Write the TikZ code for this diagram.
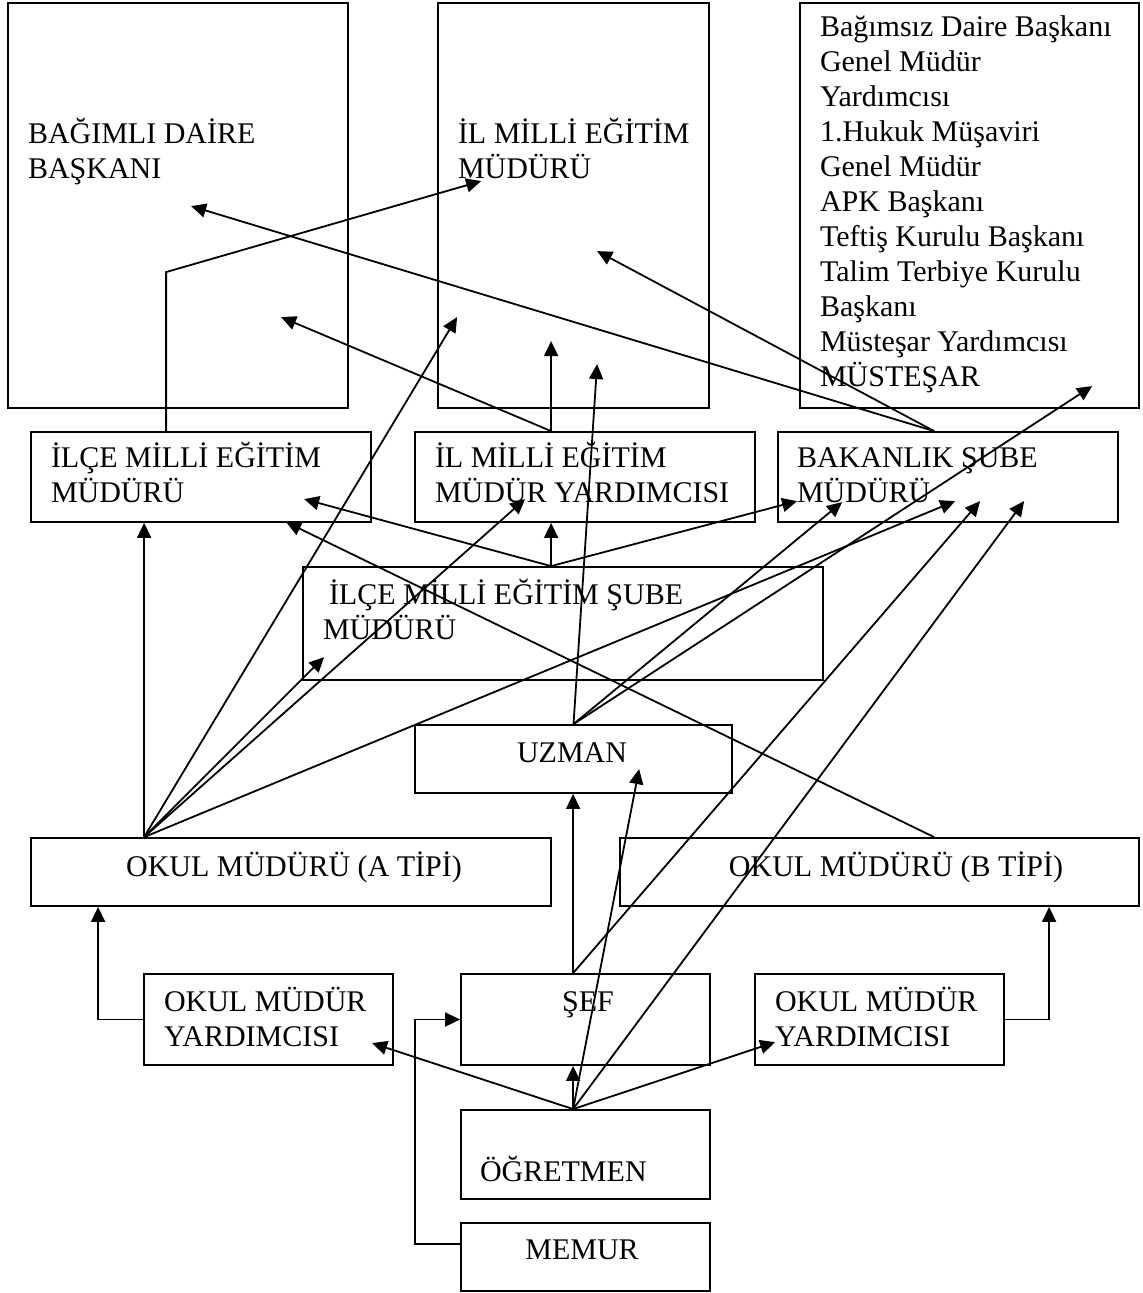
\documentclass[tikz,border=0pt]{standalone}
\usepackage{fontspec}
\setmainfont{Liberation Serif}
\usetikzlibrary{arrows.meta}

\begin{document}
\begin{tikzpicture}[
    x=0.5pt, y=-0.5pt,
    line width=0.9pt,
    box/.style={rectangle, draw, inner sep=0pt},
    txt/.style={inner sep=0pt, anchor=base west, align=left, font=\fontsize{15}{17.5}\selectfont},
    ctxt/.style={inner sep=0pt, anchor=base, font=\fontsize{15}{17.5}\selectfont},
    link/.style={-{Triangle[length=7.5pt, width=7pt]}}
]
    \useasboundingbox (0,0) rectangle (1142,1293);

    % Top row: large boxes
    \node[box, minimum width=170pt, minimum height=202.5pt] (bagimli) at (178,205.5) {};
    \node[box, minimum width=135.5pt, minimum height=202.5pt] (ilmem) at (573.5,205.5) {};
    \node[box, minimum width=169.5pt, minimum height=202.5pt] (bakanlar) at (969.5,205.5) {};

    % Second row
    \node[box, minimum width=170pt, minimum height=45pt] (ilcemem) at (201,477) {};
    \node[box, minimum width=170pt, minimum height=45pt] (ilyrd) at (585,477) {};
    \node[box, minimum width=170pt, minimum height=45pt] (sube) at (948,477) {};

    % Middle boxes
    \node[box, minimum width=260pt, minimum height=56.5pt] (ilcesube) at (563,623.5) {};
    \node[box, minimum width=158.5pt, minimum height=34pt] (uzman) at (573.5,759) {};
    \node[box, minimum width=260pt, minimum height=34pt] (okula) at (291,872) {};
    \node[box, minimum width=259.5pt, minimum height=34pt] (okulb) at (879.5,872) {};

    % Bottom boxes
    \node[box, minimum width=124.5pt, minimum height=45.5pt] (yrda) at (268.5,1019.5) {};
    \node[box, minimum width=124.5pt, minimum height=45.5pt] (sef) at (585.5,1019.5) {};
    \node[box, minimum width=124.5pt, minimum height=45.5pt] (yrdb) at (879.5,1019.5) {};
    \node[box, minimum width=124.5pt, minimum height=44.5pt] (ogretmen) at (585.5,1154.5) {};
    \node[box, minimum width=124.5pt, minimum height=34pt] (memur) at (585.5,1257) {};

    % Texts of the boxes (placed at the baseline of their last line)
    \node[txt] (t-bagimli) at ([shift={(20,176)}]bagimli.north west) {BAĞIMLI DAİRE\\BAŞKANI};
    \node[txt] (t-ilmem) at ([shift={(20,176)}]ilmem.north west) {İL MİLLİ EĞİTİM\\MÜDÜRÜ};
    \node[txt] (t-bakanlar) at ([shift={(20,384)}]bakanlar.north west) {Bağımsız Daire Başkanı\\Genel Müdür\\Yardımcısı\\1.Hukuk Müşaviri\\Genel Müdür\\APK Başkanı\\Teftiş Kurulu Başkanı\\Talim Terbiye Kurulu\\Başkanı\\Müsteşar Yardımcısı\\MÜSTEŞAR};
    \node[txt] (t-ilcemem) at ([shift={(20,71)}]ilcemem.north west) {İLÇE MİLLİ EĞİTİM\\MÜDÜRÜ};
    \node[txt] (t-ilyrd) at ([shift={(20,71)}]ilyrd.north west) {İL MİLLİ EĞİTİM\\MÜDÜR YARDIMCISI};
    \node[txt] (t-sube) at ([shift={(19,71)}]sube.north west) {BAKANLIK ŞUBE\\MÜDÜRÜ};
    \node[txt] (t-ilcesube) at ([shift={(20,73)}]ilcesube.north west) {\hspace{3pt}İLÇE MİLLİ EĞİTİM ŞUBE\\MÜDÜRÜ};
    \node[ctxt] (t-uzman) at ([shift={(-1.5,38)}]uzman.north) {UZMAN};
    \node[ctxt] (t-okula) at ([shift={(3,39)}]okula.north) {OKUL MÜDÜRÜ (A TİPİ)};
    \node[ctxt] (t-okulb) at ([shift={(16.5,39)}]okulb.north) {OKUL MÜDÜRÜ (B TİPİ)};
    \node[txt] (t-yrda) at ([shift={(20,73)}]yrda.north west) {OKUL MÜDÜR\\YARDIMCISI};
    \node[ctxt] (t-sef) at ([shift={(2.5,38)}]sef.north) {ŞEF};
    \node[txt] (t-yrdb) at ([shift={(20,73)}]yrdb.north west) {OKUL MÜDÜR\\YARDIMCISI};
    \node[txt] (t-ogretmen) at ([shift={(19,72)}]ogretmen.north west) {ÖĞRETMEN};
    \node[ctxt] (t-memur) at ([shift={(-3.5,37)}]memur.north) {MEMUR};

    % Start points of the connectors
    \coordinate (ilcemem-top) at ([shift={(136,0)}]ilcemem.north west);
    \coordinate (ilyrd-top) at ([shift={(137,0)}]ilyrd.north west);
    \coordinate (sube-top) at ([shift={(157,0)}]sube.north west);
    \coordinate (ilcesube-top) at ([shift={(249,0)}]ilcesube.north west);
    \coordinate (okula-top) at ([shift={(114,0)}]okula.north west);
    \coordinate (okulb-top) at ([shift={(315,0)}]okulb.north west);
    \coordinate (sef-top) at ([shift={(113,0)}]sef.north west);
    \coordinate (ogretmen-top) at ([shift={(113,0)}]ogretmen.north west);
    \coordinate (memur-left) at ([shift={(0,22)}]memur.north west);

    % Connectors from the second row
    \draw[link] (ilcemem-top) -- ++(0,-159) -- ([shift={(44,179)}]ilmem.north west);
    \draw[link] (ilyrd-top) -- ([shift={(114,339)}]ilmem.north west);
    \draw[link] (ilyrd-top) -- ([shift={(274,315)}]bagimli.north west);
    \draw[link] (sube-top) -- ([shift={(160,249)}]ilmem.north west);
    \draw[link] (sube-top) -- ([shift={(184,204)}]bagimli.north west);

    % Connectors from the İlçe şube müdürü
    \draw[link] (ilcesube-top) -- (ilcesube-top |- ilyrd.south);
    \draw[link] (ilcesube-top) -- ([shift={(274,68)}]ilcemem.north west);
    \draw[link] (ilcesube-top) -- ([shift={(20,70)}]sube.north west);

    % Connectors from the uzman
    \draw[link] (uzman.north) -- ([shift={(160,362)}]ilmem.north west);
    \draw[link] (uzman.north) -- ([shift={(65,71)}]sube.north west);
    \draw[link] (uzman.north) -- ([shift={(293,384)}]bakanlar.north west);

    % Connectors from the okul müdürleri
    \draw[link] (okula-top) -- (okula-top |- ilcemem.south);
    \draw[link] (okula-top) -- ([shift={(20,315)}]ilmem.north west);
    \draw[link] (okula-top) -- ([shift={(22,91)}]ilcesube.north west);
    \draw[link] (okula-top) -- ([shift={(111,68)}]ilyrd.north west);
    \draw[link] (okula-top) -- ([shift={(178,70)}]sube.north west);
    \draw[link] (okulb-top) -- ([shift={(256,91)}]ilcemem.north west);

    % Connectors from the bottom rows
    \draw[link] (yrda.west) -| ([shift={(68,0)}]okula.south west);
    \draw[link] (yrdb.east) -| ([shift={(430,0)}]okulb.south west);
    \draw[link] (sef-top) -- (sef-top |- uzman.south);
    \draw[link] (sef-top) -- ([shift={(203,70)}]sube.north west);
    \draw[link] (ogretmen-top) -- (ogretmen-top |- sef.south);
    \draw[link] (ogretmen-top) -- ([shift={(229,70)}]yrda.north west);
    \draw[link] (ogretmen-top) -- ([shift={(21,69)}]yrdb.north west);
    \draw[link] (ogretmen-top) -- ([shift={(225,45)}]uzman.north west);
    \draw[link] (ogretmen-top) -- ([shift={(247,70)}]sube.north west);
    \draw[link] (memur-left) -- ++(-45,0) |- (sef.west);

\end{tikzpicture}
\end{document}
